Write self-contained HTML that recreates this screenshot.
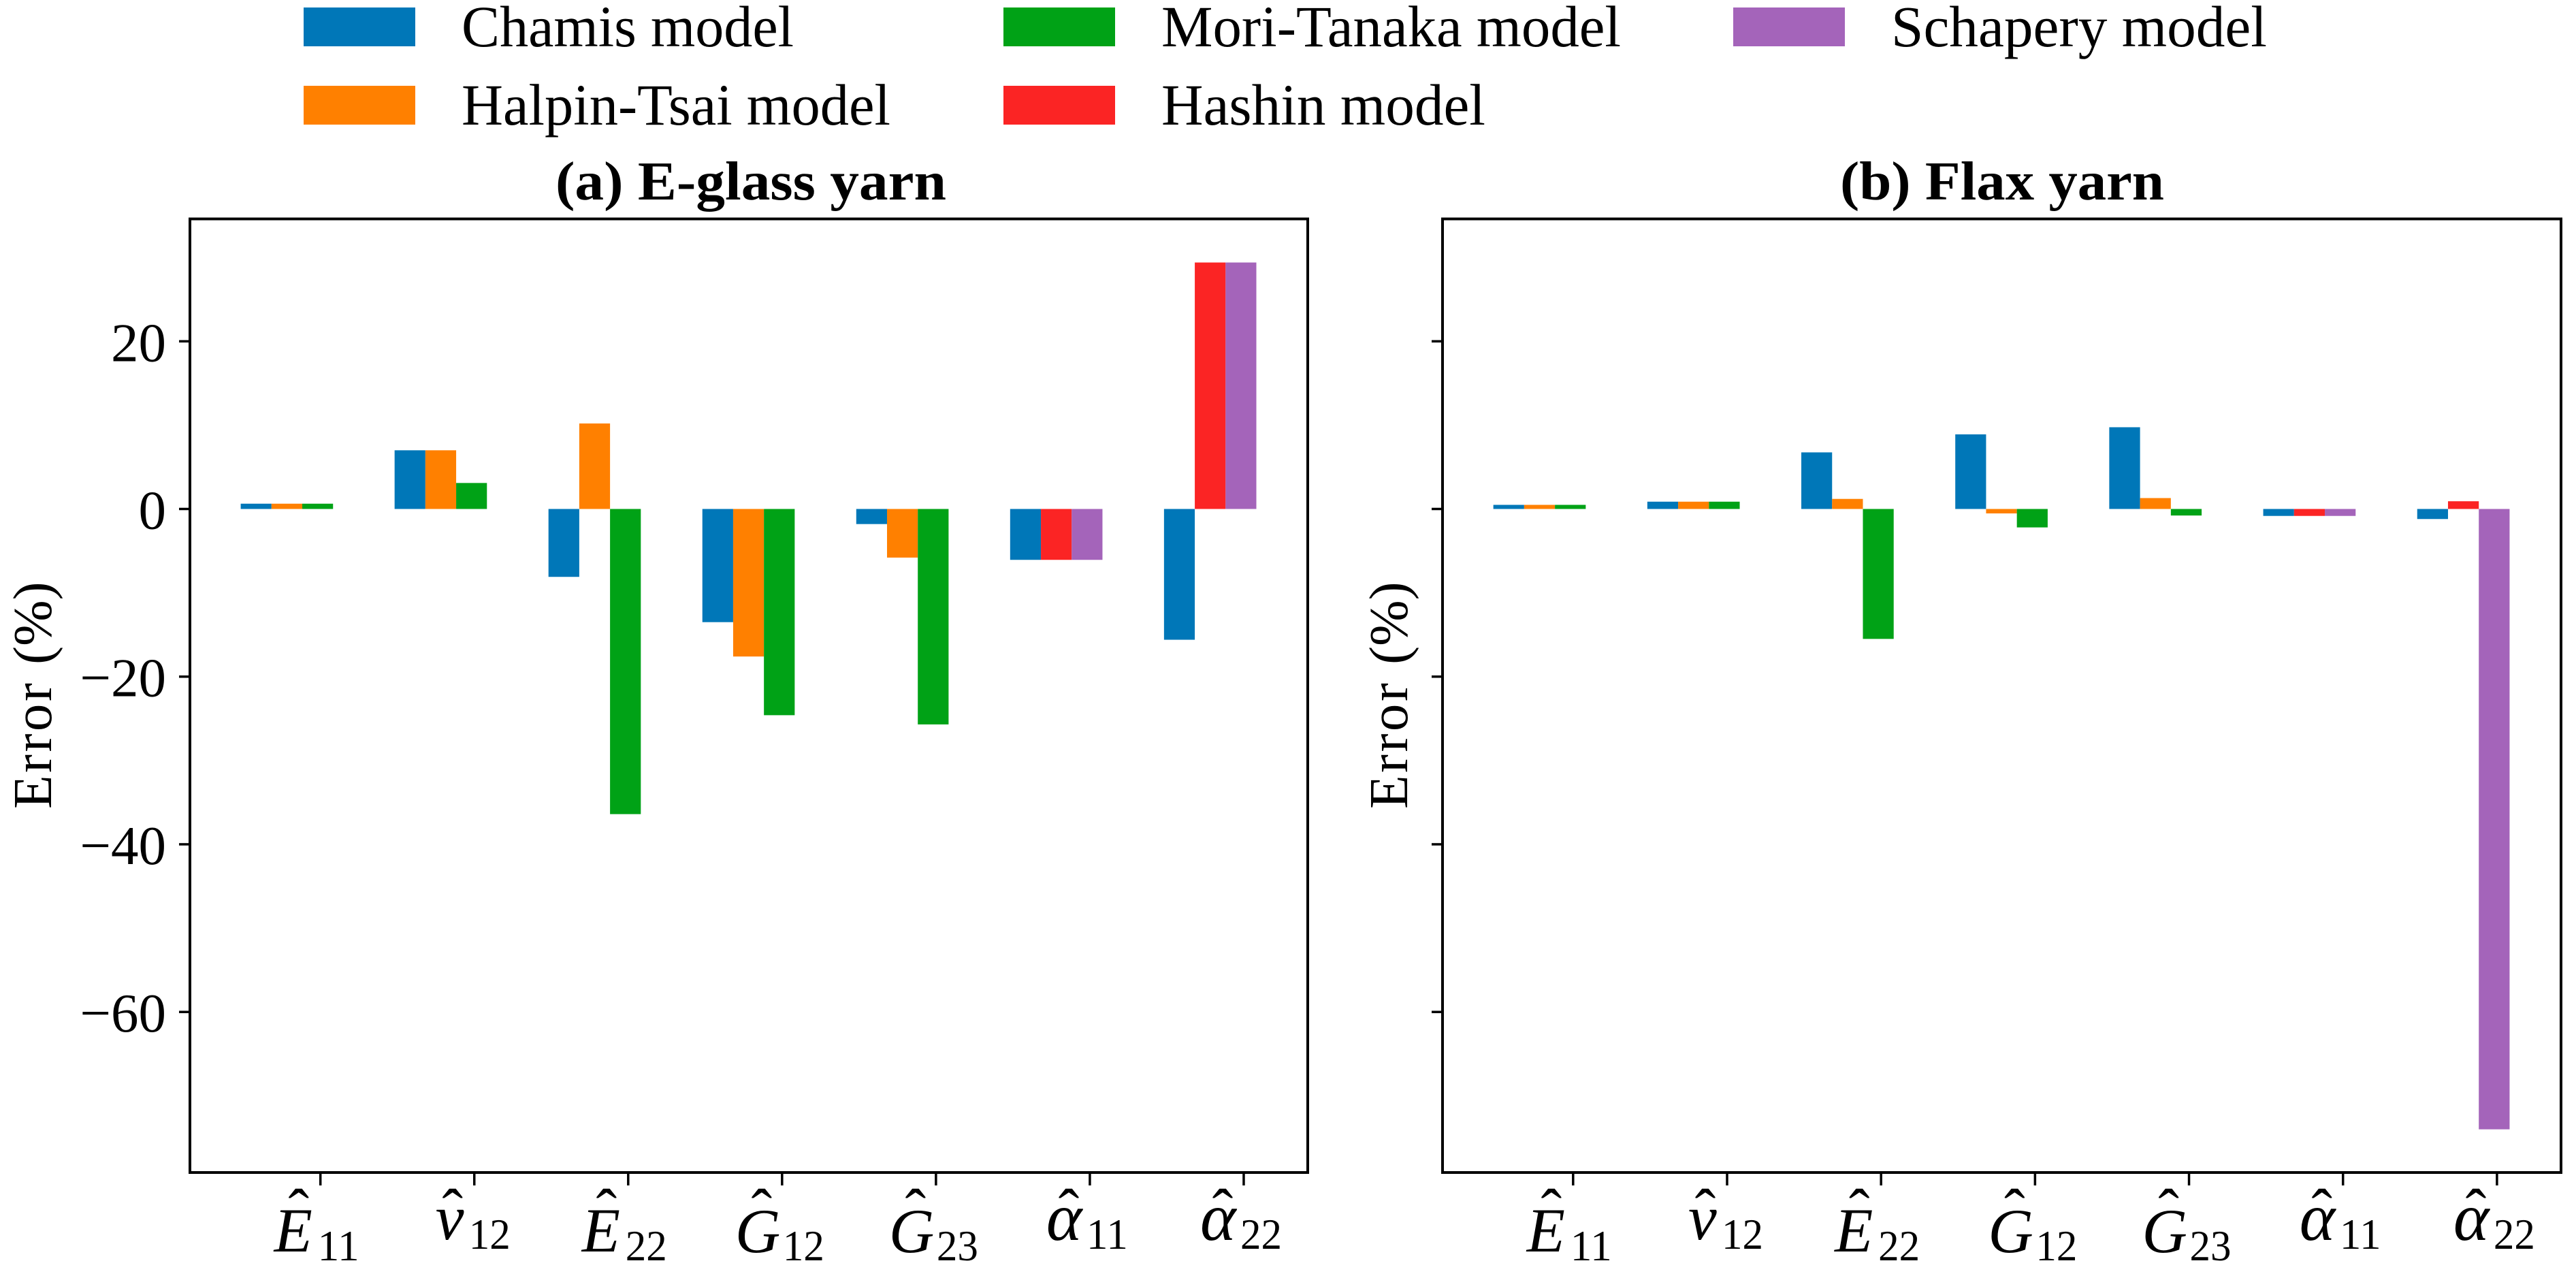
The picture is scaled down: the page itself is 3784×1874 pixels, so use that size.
<!DOCTYPE html>
<html lang="en">
<head>
<meta charset="utf-8">
<title>Model error comparison: E-glass and flax yarn</title>
<style>
  html, body { margin: 0; padding: 0; background: #fff; }
  svg { display: block; }
  text { font-family: "Liberation Serif", "DejaVu Serif", serif; fill: #000; }
</style>
</head>
<body>
<svg id="chart" xmlns="http://www.w3.org/2000/svg" width="3784" height="1874" viewBox="0 0 3784 1874">
  <rect x="0" y="0" width="3784" height="1874" fill="#ffffff"/>

  <g>
    <g>
      <rect x="446" y="11" width="164" height="57" fill="#0077b8"/>
      <text x="678" y="68" font-size="86" textLength="488" lengthAdjust="spacingAndGlyphs">Chamis model</text>
    </g>
    <g>
      <rect x="446" y="126" width="164" height="57" fill="#ff8000"/>
      <text x="678" y="183" font-size="86" textLength="630" lengthAdjust="spacingAndGlyphs">Halpin-Tsai model</text>
    </g>
    <g>
      <rect x="1474" y="11" width="164" height="57" fill="#00a216"/>
      <text x="1706" y="68" font-size="86" textLength="675" lengthAdjust="spacingAndGlyphs">Mori-Tanaka model</text>
    </g>
    <g>
      <rect x="1474" y="126" width="164" height="57" fill="#fb2424"/>
      <text x="1706" y="183" font-size="86" textLength="476" lengthAdjust="spacingAndGlyphs">Hashin model</text>
    </g>
    <g>
      <rect x="2546" y="11" width="164" height="57" fill="#a464ba"/>
      <text x="2778" y="68" font-size="86" textLength="552" lengthAdjust="spacingAndGlyphs">Schapery model</text>
    </g>
  </g>

  <text x="816" y="293" font-size="80" font-weight="bold" textLength="574" lengthAdjust="spacingAndGlyphs">(a) E-glass yarn</text>
  <text x="2703" y="293" font-size="80" font-weight="bold" textLength="476" lengthAdjust="spacingAndGlyphs">(b) Flax yarn</text>

  <text transform="translate(75 1188) rotate(-90)" font-size="81"><tspan letter-spacing="3.5">Error </tspan><tspan>(%)</tspan></text>
  <text transform="translate(2067 1188) rotate(-90)" font-size="81"><tspan letter-spacing="3.5">Error </tspan><tspan>(%)</tspan></text>

  <g id="panel-a"></g>
  <g id="panel-b"></g>
</svg>

<script>
// ---- chart data ----
const categoryLetters = ['E', 'ν', 'E', 'G', 'G', 'α', 'α'];
const categorySubscripts = ['11', '12', '22', '12', '23', '11', '22'];
const seriesKeys = ['chamis', 'halpin-tsai', 'mori-tanaka', 'hashin', 'schapery'];
const seriesColors = ['#0077b8', '#ff8000', '#00a216', '#fb2424', '#a464ba'];
const yTickValues = [20, 0, -20, -40, -60];
const yTickLabels = ['20', '0', '−20', '−40', '−60'];

const glassChamis = [0.63, 7.0, -8.1, -13.5, -1.8, -6.07, -15.6];
const glassHalpinTsai = [0.63, 7.0, 10.2, -17.6, -5.8, null, null];
const glassMoriTanaka = [0.63, 3.1, -36.4, -24.6, -25.7, null, null];
const glassHashin = [null, null, null, null, null, -6.07, 29.4];
const glassSchapery = [null, null, null, null, null, -6.07, 29.4];

const flaxChamis = [0.49, 0.87, 6.75, 8.9, 9.75, -0.83, -1.2];
const flaxHalpinTsai = [0.49, 0.87, 1.2, -0.53, 1.3, null, null];
const flaxMoriTanaka = [0.49, 0.87, -15.5, -2.2, -0.78, null, null];
const flaxHashin = [null, null, null, null, null, -0.83, 0.92];
const flaxSchapery = [null, null, null, null, null, -0.83, -74.0];

// ---- axis configuration ----
const X_DOMAIN = [-0.848, 6.416];
const Y_DOMAIN = [-79.15, 34.6];
const PLOT_TOP = 321.5;
const PLOT_BOTTOM = 1722;
const BAR_WIDTH = 0.2;
const GROUP_START = -0.518;
const SVG_NS = 'http://www.w3.org/2000/svg';

const glyphLayout = {
  'E': { dx: -68, size: 92, baseline: 1838, hat: -32, sub: -4, subBaseline: 1851 },
  'ν': { dx: -57, size: 94, baseline: 1820, hat: -32, sub: -8, subBaseline: 1834 },
  'G': { dx: -69, size: 92, baseline: 1839, hat: -30, sub: 1, subBaseline: 1851 },
  'α': { dx: -64, size: 100, baseline: 1821, hat: -31, sub: -5, subBaseline: 1834 }
};

function yScale(v) {
  return PLOT_TOP + (Y_DOMAIN[1] - v) / (Y_DOMAIN[1] - Y_DOMAIN[0]) * (PLOT_BOTTOM - PLOT_TOP);
}

function makeXScale(left, right) {
  return function (v) {
    return left + (v - X_DOMAIN[0]) / (X_DOMAIN[1] - X_DOMAIN[0]) * (right - left);
  };
}

function svgEl(tag, parent) {
  const el = document.createElementNS(SVG_NS, tag);
  parent.appendChild(el);
  return el;
}

function setAttrs(el, attrs) {
  Object.keys(attrs).forEach(function (k) { el.setAttribute(k, attrs[k]); });
}

function drawPanel(group, prefix, left, right, seriesValues, showYLabels) {
  const xScale = makeXScale(left, right);

  // bars: slots fill left to right with the series present in each category
  categoryLetters.forEach(function (letter, i) {
    let slot = 0;
    seriesValues.forEach(function (values, s) {
      const v = values[i];
      if (v === null) return;
      const bar = svgEl('rect', group);
      
      
      const x0 = xScale(i + GROUP_START + slot * BAR_WIDTH);
      const x1 = xScale(i + GROUP_START + (slot + 1) * BAR_WIDTH);
      const y0 = yScale(Math.max(v, 0));
      const y1 = yScale(Math.min(v, 0));
      setAttrs(bar, { x: x0, y: y0, width: x1 - x0, height: y1 - y0, fill: seriesColors[s], 'data-series': seriesKeys[s] });
      slot += 1;
    });
  });

  // plot frame
  const frame = svgEl('rect', group);
  
  
  setAttrs(frame, { x: left, y: PLOT_TOP, width: right - left, height: PLOT_BOTTOM - PLOT_TOP, fill: 'none', stroke: '#000', 'stroke-width': 4 });

  // y ticks
  yTickValues.forEach(function (tv, i) {
    const y = yScale(tv);
    const tick = svgEl('line', group);
    
    
    setAttrs(tick, { x1: left - 16, x2: left, y1: y, y2: y, stroke: '#000', 'stroke-width': 3.5 });
    if (showYLabels) {
      const label = svgEl('text', group);
      
      
      setAttrs(label, { x: left - 35, y: y + 29, 'font-size': 81, 'text-anchor': 'end' });
      label.textContent = yTickLabels[i];
    }
  });

  // x ticks and math labels
  categoryLetters.forEach(function (letter, i) {
    const x = xScale(i);
    const layout = glyphLayout[letter];
    const tick = svgEl('line', group);
    
    
    setAttrs(tick, { x1: x, x2: x, y1: PLOT_BOTTOM, y2: 1741, stroke: '#000', 'stroke-width': 3.5 });

    const label = svgEl('g', group);
    
    

    const main = svgEl('text', label);
    setAttrs(main, { x: x + layout.dx, y: layout.baseline, 'font-size': layout.size, 'font-style': 'italic' });
    main.textContent = letter;

    const hat = svgEl('text', label);
    setAttrs(hat, { x: x + layout.hat, y: 1810, 'font-size': 92, 'text-anchor': 'middle' });
    hat.textContent = 'ˆ';

    const sub = svgEl('text', label);
    setAttrs(sub, { x: x + layout.sub, y: layout.subBaseline, 'font-size': 63, textLength: 61, lengthAdjust: 'spacingAndGlyphs' });
    sub.textContent = categorySubscripts[i];
  });
}

drawPanel(document.getElementById('panel-a'), 'a', 279, 1921,
  [glassChamis, glassHalpinTsai, glassMoriTanaka, glassHashin, glassSchapery], true);
drawPanel(document.getElementById('panel-b'), 'b', 2119, 3762,
  [flaxChamis, flaxHalpinTsai, flaxMoriTanaka, flaxHashin, flaxSchapery], false);
</script>
</body>
</html>
